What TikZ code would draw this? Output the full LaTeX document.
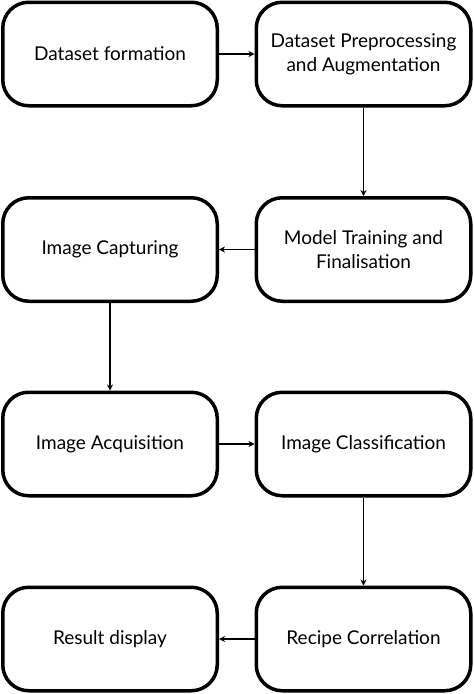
\documentclass[tikz,border=0pt]{standalone}
\usepackage{fontspec}
\setmainfont{Lato}
\usetikzlibrary{arrows.meta}
\begin{document}
\begin{tikzpicture}[x=1pt, y=-1pt,
        stage/.style={draw, line width=3.5pt, rounded corners=26pt, minimum width=214.5pt,
            minimum height=103.5pt, align=center, font=\fontsize{19}{24}\selectfont},
        flow/.style={line width=1.2pt, -{Stealth[length=6pt, width=6pt]}}]
    \useasboundingbox (0, 0) rectangle (474, 694);
    \node[stage] (dataform) at (110, 54) {Dataset formation};
    \node[stage] (preproc) at (363.5, 54) {Dataset Preprocessing\\and Augmentation};
    \node[stage] (training) at (363.5, 249.5) {Model Training and\\Finalisation};
    \node[stage] (capture) at (110, 249.5) {Image Capturing};
    \node[stage] (acquire) at (110, 444) {Image Acquisition};
    \node[stage] (classify) at (363.5, 444) {Image Classification};
    \node[stage] (recipe) at (363.5, 639) {Recipe Correlation};
    \node[stage] (result) at (110, 639) {Result display};
    \draw[flow] (dataform) -- (preproc);
    \draw[flow] (preproc) -- (training);
    \draw[flow] (training) -- (capture);
    \draw[flow] (capture) -- (acquire);
    \draw[flow] (acquire) -- (classify);
    \draw[flow] (classify) -- (recipe);
    \draw[flow] (recipe) -- (result);
\end{tikzpicture}
\end{document}
